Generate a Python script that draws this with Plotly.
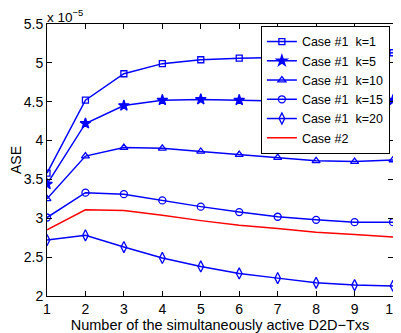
import plotly.graph_objects as go

x_vals = [1, 2, 3, 4, 5, 6, 7, 8, 9, 10]
k1 = [3.58, 4.52, 4.86, 4.99, 5.04, 5.06, 5.07, 5.08, 5.09, 5.13]
k5 = [3.44, 4.22, 4.45, 4.52, 4.53, 4.52, 4.51, 4.51, 4.51, 4.52]
k10 = [3.25, 3.80, 3.91, 3.90, 3.86, 3.82, 3.78, 3.74, 3.73, 3.75]
k15 = [3.01, 3.33, 3.31, 3.23, 3.15, 3.08, 3.02, 2.98, 2.95, 2.95]
k20 = [2.72, 2.78, 2.63, 2.49, 2.38, 2.29, 2.23, 2.17, 2.14, 2.13]
case2 = [2.85, 3.11, 3.10, 3.04, 2.97, 2.91, 2.87, 2.82, 2.79, 2.76]

names = ["Case #1  k=1", "Case #1  k=5", "Case #1  k=10", "Case #1  k=15", "Case #1  k=20"]
series = [k1, k5, k10, k15, k20]
symbols = ["square-open", "star", "triangle-up-open", "circle-open", "diamond-tall-open"]
sizes = [6, 8, 7, 7, 8]

fig = go.Figure()
for name, ys, sym, sz in zip(names, series, symbols, sizes):
    fig.add_trace(go.Scatter(
        x=x_vals, y=ys, name=name, mode="lines+markers",
        line=dict(color="#0000ff", width=1.5),
        marker=dict(symbol=sym, size=sz, color="#0000ff", line=dict(color="#0000ff", width=1.3)),
    ))
fig.add_trace(go.Scatter(x=x_vals, y=case2, name="Case #2", mode="lines",
                         line=dict(color="#ff0000", width=1.5)))

axis_common = dict(showline=True, linecolor="black", linewidth=1, mirror="ticks",
                   ticks="inside", ticklen=5, tickcolor="black", showgrid=False,
                   zeroline=False, tickfont=dict(size=14, color="black"), automargin=False)
fig.update_xaxes(range=[1, 10], tickvals=x_vals, title=dict(text="Number of the simultaneously active D2D\u2212Txs",
                 font=dict(size=14.5, color="black"), standoff=0), **axis_common)
fig.update_yaxes(range=[2, 5.5], tickvals=[2, 2.5, 3, 3.5, 4, 4.5, 5, 5.5],
                 ticktext=["2", "2.5", "3", "3.5", "4", "4.5", "5", "5.5"],
                 title=dict(text="ASE", font=dict(size=14, color="black"), standoff=4), **axis_common)

fig.add_annotation(text="x 10<sup>\u22125</sup>", xref="paper", yref="paper", x=0, y=1.0,
                   xanchor="left", yanchor="bottom", showarrow=False,
                   font=dict(size=13.5, color="black"), xshift=-2, yshift=-3)

fig.update_layout(
    width=393, height=325,
    margin=dict(l=39, r=8, t=16, b=37, autoexpand=False),
    paper_bgcolor="white", plot_bgcolor="white",
    font=dict(family="Liberation Sans, Arial, sans-serif", color="black"),
    legend=dict(x=0.991, y=0.993, xanchor="right", yanchor="top",
                bgcolor="white", bordercolor="black", borderwidth=1,
                font=dict(size=12.5, color="black"), tracegroupgap=0,
                itemwidth=30),
)

fig.write_html("out.html")
